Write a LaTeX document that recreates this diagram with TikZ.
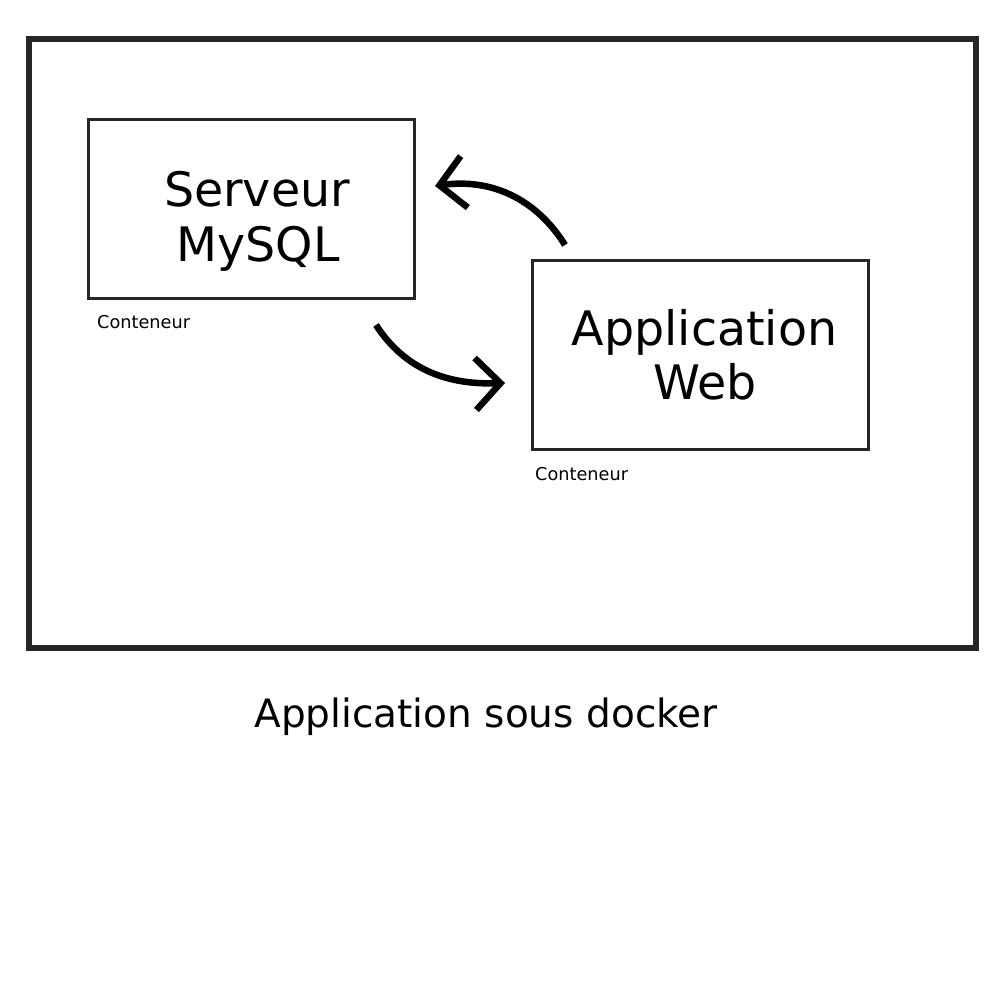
\documentclass[tikz,border=0pt]{standalone}
\usepackage{fontspec}
\setmainfont{DejaVu Sans}
\usetikzlibrary{arrows.meta}
\begin{document}
\begin{tikzpicture}[x=1pt,y=1pt,
  frame/.style={draw=black!85,line width=6.5pt},
  box/.style={draw=black!85,line width=3pt,fill=white,inner sep=0pt},
  big/.style={font=\fontsize{47.5}{55}\selectfont,anchor=base,inner sep=0pt},
  small/.style={font=\fontsize{17.7}{20}\selectfont,anchor=base west,inner sep=0pt},
  caption/.style={font=\fontsize{39}{45}\selectfont,anchor=base,inner sep=0pt},
  flow/.style={line width=6.5pt,-{Straight Barb[length=25pt,width=52pt]}}]
\useasboundingbox (0,0) rectangle (1000,1000);
\fill[white] (0,0) rectangle (1000,1000);
\node[frame,minimum width=947pt,minimum height=609pt,inner sep=0pt] (docker) at (502.5,656.5) {};
\node[box,minimum width=326pt,minimum height=179pt] (sql) at (251,790.5) {};
\node[box,minimum width=336pt,minimum height=189pt] (web) at (700,644.5) {};
\node[big] (t1) at (257,793) {Serveur};
\node[big] (t2) at (258,738) {MySQL};
\node[big] (t3) at (704.5,654) {Application};
\node[big] (t4) at (705,600) {Web};
\node[small] (c1) at (97,671) {Conteneur};
\node[small] (c2) at (535,519) {Conteneur};
\node[caption] (cap) at (486,272) {Application sous docker};
\coordinate (a1s) at (565,755);
\coordinate (a1e) at (435,814);
\coordinate (a2s) at (376,675);
\coordinate (a2e) at (505,617);
\draw[flow] (a1s) to[out=122,in=8] (a1e);
\draw[flow] (a2s) to[out=-57,in=182] (a2e);
\end{tikzpicture}
\end{document}
